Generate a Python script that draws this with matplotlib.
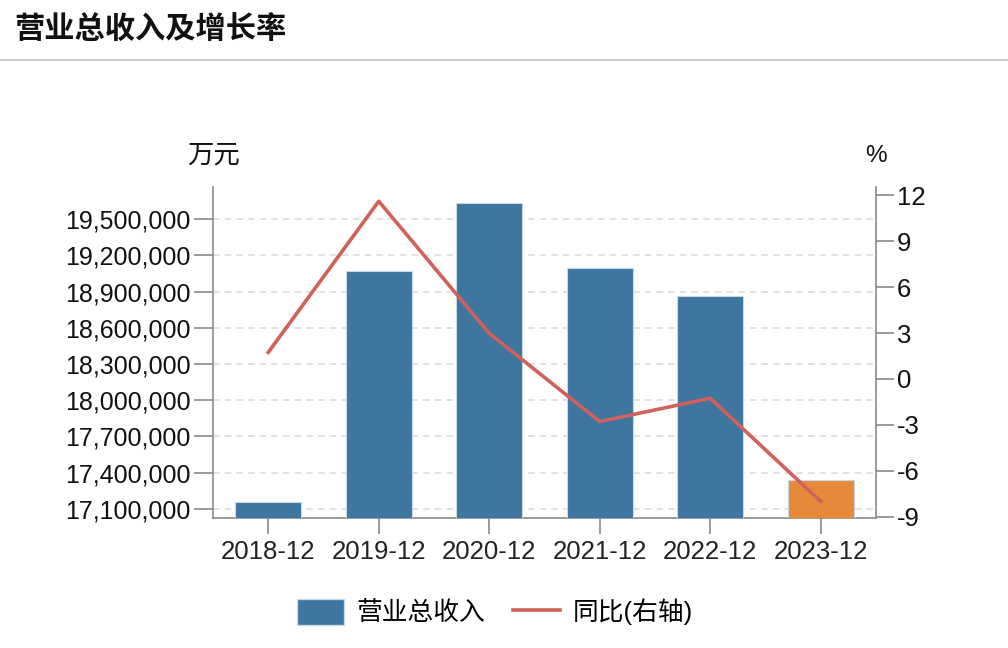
import matplotlib.pyplot as plt
from matplotlib.lines import Line2D
from matplotlib.ticker import FuncFormatter

plt.rcParams['font.family'] = ['Liberation Sans', 'Noto Sans CJK SC']
plt.rcParams['axes.unicode_minus'] = False

# --- data ---
years = ["2018-12", "2019-12", "2020-12", "2021-12", "2022-12", "2023-12"]
revenue = [17152000, 19070000, 19638000, 19097000, 18863000, 17340000]  # 万元
growth = [1.74, 11.61, 2.98, -2.78, -1.26, -8.0]  # %
left_ticks = [17100000, 17400000, 17700000, 18000000, 18300000, 18600000,
              18900000, 19200000, 19500000]
right_ticks = [-9, -6, -3, 0, 3, 6, 9, 12]

blue = "#3e76a0"
orange = "#e68a3a"
red = "#d0615b"
gray = "#8a8a8a"

fig = plt.figure(figsize=(10.08, 6.48), dpi=100)
ax = fig.add_axes([213 / 1008, 1 - 518 / 648, (876 - 213) / 1008, (518 - 187) / 648])

x = list(range(len(years)))
colors = [blue] * (len(years) - 1) + [orange]
bars = ax.bar(x, revenue, width=0.6, color=colors, edgecolor="#c4d8e6",
              linewidth=0.8, zorder=3)
ax.set_xlim(-0.5, len(years) - 0.5)
ax.set_ylim(17023000, 19767000)
ax.set_yticks(left_ticks)
ax.yaxis.set_major_formatter(FuncFormatter(lambda v, p: f"{int(v):,}"))
ax.set_xticks(x)
ax.set_xticklabels(years)

ax.grid(axis="y", color="#dddddd", linestyle=(0, (4, 3)), linewidth=1.2, zorder=0)
ax.set_axisbelow(True)

for s in ["top", "right"]:
    ax.spines[s].set_visible(False)
for s in ["left", "bottom"]:
    ax.spines[s].set_color(gray)
    ax.spines[s].set_linewidth(1.2)
ax.tick_params(axis="y", length=14, width=1.2, color=gray, pad=2, labelsize=18, labelcolor="#111111")
ax.tick_params(axis="x", length=11.5, width=1.2, color=gray, pad=4, labelsize=18.5, labelcolor="#222222")

# --- growth line on right axis ---
ax2 = ax.twinx()
line, = ax2.plot(x, growth, color=red, linewidth=2.6, zorder=4)
ax2.set_ylim(-9.08, 12.54)
ax2.set_yticks(right_ticks)
for s in ["top", "left", "bottom"]:
    ax2.spines[s].set_visible(False)
ax2.spines["right"].set_color(gray)
ax2.spines["right"].set_linewidth(1.2)
ax2.tick_params(axis="y", length=13, width=1.2, color=gray, pad=2, labelsize=18.5, labelcolor="#111111")

# --- unit labels ---
fig.text(213 / 1008, 1 - 156 / 648, "万元", ha="center", va="center", fontsize=19, color="#111111")
fig.text(876 / 1008, 1 - 156 / 648, "%", ha="center", va="center", fontsize=17.5, color="#111111")

# --- title and separator ---
fig.text(14 / 1008, 1 - 30 / 648, "营业总收入及增长率", ha="left", va="center",
         fontsize=21.8, fontweight="bold", color="#111111")
fig.add_artist(Line2D([0, 1], [1 - 60 / 648] * 2, transform=fig.transFigure,
                      color="#cccccc", linewidth=1.5))

# --- legend ---
bar_handle = plt.Rectangle((0, 0), 1, 1, facecolor=blue, edgecolor="#c4d8e6")
fig.legend([bar_handle, line], ["营业总收入", "同比(右轴)"], loc="center",
           bbox_to_anchor=(495 / 1008, 1 - 612 / 648), ncol=2, frameon=False,
           fontsize=18.5, handlelength=1.8, handleheight=1.2, handletextpad=0.5,
           columnspacing=1.1)

fig.savefig("out.png", dpi=100)
